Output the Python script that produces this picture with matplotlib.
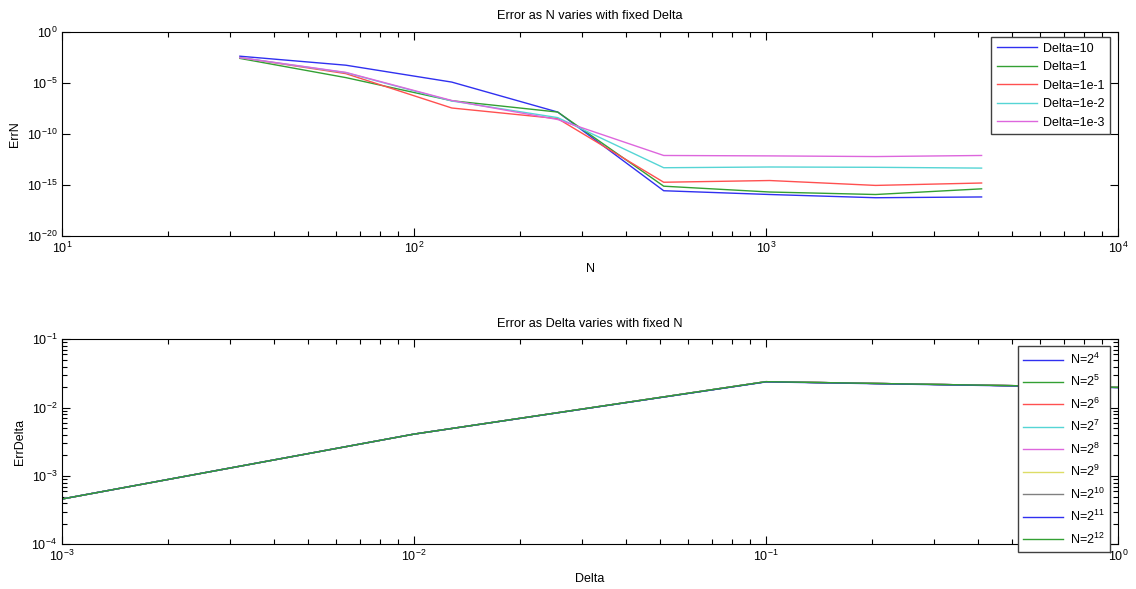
import matplotlib
matplotlib.use('Agg')
import matplotlib.pyplot as plt
from matplotlib.ticker import NullLocator

plt.rcParams['font.family'] = ['Liberation Sans', 'DejaVu Sans']
plt.rcParams['mathtext.fontset'] = 'custom'
plt.rcParams['mathtext.rm'] = 'Liberation Sans'
plt.rcParams['mathtext.it'] = 'Liberation Sans'
plt.rcParams['font.size'] = 9

# Top panel: error vs N for fixed Delta
n_values = [32, 64, 128, 256, 512, 1024, 2048, 4096]
err_delta_10 = [4.1e-3, 5.4e-4, 1.2e-5, 1.4e-8, 2.8e-16, 1.2e-16, 5.8e-17, 6.9e-17]
err_delta_1 = [2.5e-3, 3.3e-5, 1.8e-7, 1.4e-8, 7.8e-16, 2.1e-16, 1.2e-16, 4.3e-16]
err_delta_1em1 = [3.0e-3, 8.1e-5, 3.5e-8, 3.2e-9, 1.9e-15, 2.8e-15, 9.3e-16, 1.6e-15]
err_delta_1em2 = [3.0e-3, 1.0e-4, 1.7e-7, 4.0e-9, 5.0e-14, 5.9e-14, 5.5e-14, 4.6e-14]
err_delta_1em3 = [3.0e-3, 1.07e-4, 1.9e-7, 2.6e-9, 7.9e-13, 7.2e-13, 6.2e-13, 7.9e-13]
top_labels = ['Delta=10', 'Delta=1', 'Delta=1e-1', 'Delta=1e-2', 'Delta=1e-3']

# Bottom panel: error vs Delta for fixed N (all curves coincide)
delta_values = [1e-3, 1e-2, 1e-1, 1.0]
err_n_2_4 = [4.6e-4, 4.1e-3, 2.4e-2, 1.98e-2]
err_n_2_5 = [4.6e-4, 4.1e-3, 2.4e-2, 1.98e-2]
err_n_2_6 = [4.6e-4, 4.1e-3, 2.4e-2, 1.98e-2]
err_n_2_7 = [4.6e-4, 4.1e-3, 2.4e-2, 1.98e-2]
err_n_2_8 = [4.6e-4, 4.1e-3, 2.4e-2, 1.98e-2]
err_n_2_9 = [4.6e-4, 4.1e-3, 2.4e-2, 1.98e-2]
err_n_2_10 = [4.6e-4, 4.1e-3, 2.4e-2, 1.98e-2]
err_n_2_11 = [4.6e-4, 4.1e-3, 2.38e-2, 1.96e-2]
err_n_2_12 = [4.6e-4, 4.1e-3, 2.4e-2, 1.98e-2]
bottom_exps = [4, 5, 6, 7, 8, 9, 10, 11, 12]

# matlab-ish default color order (lightened a bit to look like the thin AA lines)
colors = ['#3030f0', '#33a033', '#ff5050', '#55d5d5', '#dd66dd', '#dddd66', '#808080']

fig = plt.figure(figsize=(11.36, 5.89), dpi=100)
ax1 = fig.add_axes([0.0546, 0.599, 0.9296, 0.347])
ax2 = fig.add_axes([0.0546, 0.0759, 0.9296, 0.348])

top_series = [err_delta_10, err_delta_1, err_delta_1em1, err_delta_1em2, err_delta_1em3]
for i, ys in enumerate(top_series):
    ax1.loglog(n_values, ys, color=colors[i], lw=1, label=top_labels[i])
ax1.set_xlim(1e1, 1e4)
ax1.set_ylim(1e-20, 1e0)
ax1.set_yticks([1e-20, 1e-15, 1e-10, 1e-5, 1e0])
ax1.yaxis.set_minor_locator(NullLocator())
ax1.set_title('Error as N varies with fixed Delta', fontsize=9.2, pad=9)
ax1.set_xlabel('N', labelpad=5)
ax1.set_ylabel('ErrN', labelpad=4)
ax1.legend(loc='upper right', bbox_to_anchor=(0.9924, 0.974), fancybox=False,
           edgecolor='#404040', framealpha=1, handlelength=3.2, labelspacing=0.52,
           borderaxespad=0, borderpad=0.45, handletextpad=0.5)

bottom_series = [err_n_2_4, err_n_2_5, err_n_2_6, err_n_2_7, err_n_2_8,
                 err_n_2_9, err_n_2_10, err_n_2_11, err_n_2_12]
for i, ys in enumerate(bottom_series):
    ax2.loglog(delta_values, ys, color=colors[i % 7], lw=1,
               label='N=2$^{%d}$' % bottom_exps[i])
ax2.set_xlim(1e-3, 1e0)
ax2.set_ylim(1e-4, 1e-1)
ax2.set_title('Error as Delta varies with fixed N', fontsize=9.2, pad=9)
ax2.set_xlabel('Delta', labelpad=6)
ax2.set_ylabel('ErrDelta', labelpad=4)
ax2.legend(loc='upper right', bbox_to_anchor=(0.9924, 0.967), fancybox=False,
           edgecolor='#404040', framealpha=1, handlelength=3.2, labelspacing=0.58,
           borderaxespad=0, borderpad=0.45, handletextpad=0.5)

for ax in (ax1, ax2):
    ax.tick_params(which='both', direction='in', top=True, right=True, labelsize=9)
    ax.tick_params(which='major', length=6, width=0.8)
    ax.tick_params(which='minor', length=3.5, width=0.8)
    for s in ax.spines.values():
        s.set_linewidth(0.8)

fig.savefig('out.png', dpi=100)
